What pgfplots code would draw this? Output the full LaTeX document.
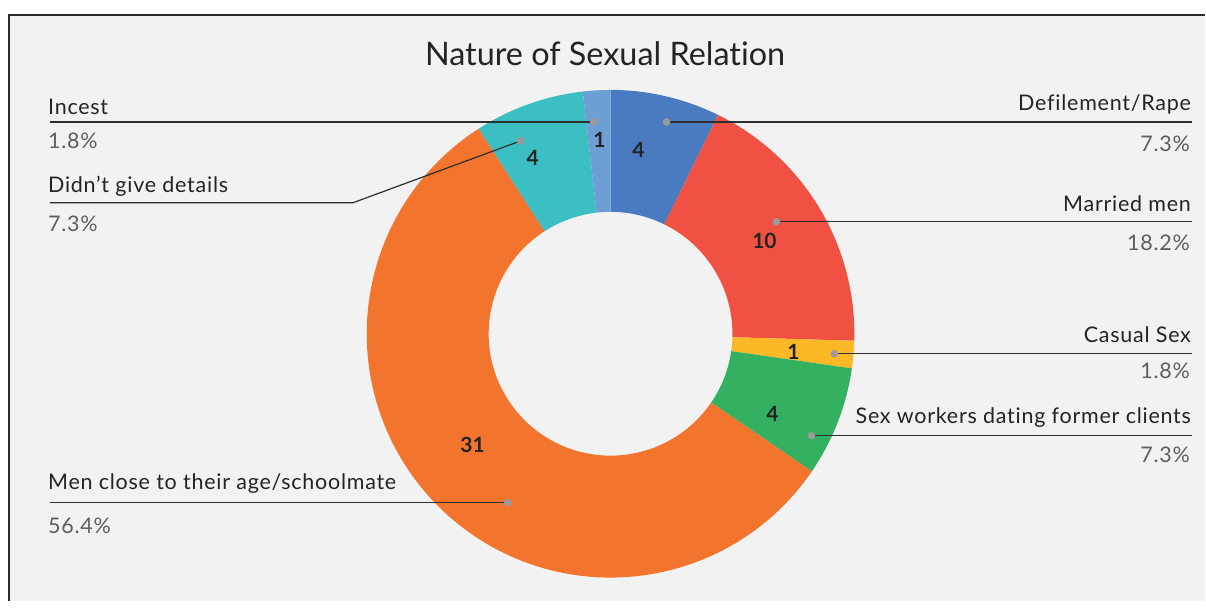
\documentclass[border=0pt]{standalone}
\usepackage{pgfplots}
\pgfplotsset{compat=1.18}
\usepackage{pgfplotstable}
\usepackage{fontspec}
\setmainfont{Lato}[Ligatures={NoCommon}]
\newfontfamily\labfont[LetterSpace=3.5,Ligatures={NoCommon}]{Lato}
\definecolor{cDef}{HTML}{4A7BC0}
\definecolor{cMar}{HTML}{F05142}
\definecolor{cCas}{HTML}{FDB827}
\definecolor{cSex}{HTML}{33B060}
\definecolor{cMen}{HTML}{F3742D}
\definecolor{cNod}{HTML}{3BBFC2}
\definecolor{cInc}{HTML}{6E9FD4}
\definecolor{bgC}{HTML}{F2F2F2}
\definecolor{frameC}{HTML}{2B2B2B}
\definecolor{txtC}{HTML}{252423}
\definecolor{pctC}{HTML}{605E5C}
\definecolor{lineC}{HTML}{2E2E2E}
\definecolor{dotC}{HTML}{9A9A9A}
\pgfplotstableread{
name value col
Defilement 4 cDef
Married 10 cMar
Casual 1 cCas
SexWorkers 4 cSex
MenClose 31 cMen
NoDetails 4 cNod
Incest 1 cInc
}\pietable
\newcommand\lab{\labfont\fontsize{21.5}{25}\selectfont}
\newcommand\num{\fontsize{21}{25}\selectfont\bfseries}
\begin{document}
\begin{tikzpicture}
\fill[white] (0,0) rectangle (1206pt,601pt);
\fill[bgC] (10pt,0) rectangle (1206pt,586pt);
\draw[frameC, line width=1.8pt] (9pt,0) -- (9pt,586pt) -- (1206pt,586pt);
\begin{axis}[x=1pt, y=1pt, xmin=0, xmax=1206, ymin=0, ymax=601,
  hide axis, clip=false, at={(0,0)}, anchor=south west]
\pgfplotsextra{
  \pgfplotstablegetrowsof{\pietable}
  \pgfmathtruncatemacro\lastrow{\pgfplotsretval-1}
  \gdef\pietot{0}
  \foreach \i in {0,...,\lastrow}{
    \pgfplotstablegetelem{\i}{value}\of\pietable
    \pgfmathparse{\pietot+\pgfplotsretval}\xdef\pietot{\pgfmathresult}}
  \gdef\cumang{90}
  \foreach \i in {0,...,\lastrow}{
    \pgfplotstablegetelem{\i}{value}\of\pietable
    \pgfmathparse{\cumang-360*\pgfplotsretval/\pietot}
    \let\aa\cumang \let\bb\pgfmathresult
    \pgfplotstablegetelem{\i}{col}\of\pietable
    \let\cc\pgfplotsretval
    \fill[color=\cc, shift={(axis cs:611,267)}]
      (\aa:244pt) arc[start angle=\aa, end angle=\bb, radius=244pt]
      -- (\bb:122pt) arc[start angle=\bb, end angle=\aa, radius=122pt] -- cycle;
    \xdef\cumang{\bb}}
}
% title
\node[anchor=base, text=txtC, font=\fontsize{32.4}{38}\selectfont] at (axis cs:605.5,535) {Nature of Sexual Relation};
% leader lines
\addplot[lineC, line width=1.2pt] coordinates {(50,479) (594,479)};
\addplot[lineC, line width=1.2pt] coordinates {(50,398) (353,398) (521,460)};
\addplot[lineC, line width=1.2pt] coordinates {(50,98) (508,98)};
\addplot[lineC, line width=1.2pt] coordinates {(667,479) (1193,479)};
\addplot[lineC, line width=1.2pt] coordinates {(777,379) (1193,379)};
\addplot[lineC, line width=1.2pt] coordinates {(835,247) (1193,247)};
\addplot[lineC, line width=1.2pt] coordinates {(812,165) (1193,165)};
\addplot[only marks, mark=*, mark size=3.6pt, dotC, mark options={draw=dotC, fill=dotC}]
  coordinates {(594,479) (521,460) (508,98) (667,479) (777,379) (835,247) (812,165)};
% slice values
\node[anchor=base, text=txtC, font=\num] at (axis cs:639,443) {4};
\node[anchor=base, text=txtC, font=\num] at (axis cs:765,352) {10};
\node[anchor=base, text=txtC, font=\num] at (axis cs:794,241) {1};
\node[anchor=base, text=txtC, font=\num] at (axis cs:773,179) {4};
\node[anchor=base, text=txtC, font=\num] at (axis cs:473,148) {31};
\node[anchor=base, text=txtC, font=\num] at (axis cs:533,435) {4};
\node[anchor=base, text=txtC, font=\num] at (axis cs:600,453) {1};
% left labels
\node[anchor=base west, inner sep=0pt, text=txtC, font=\lab] at (axis cs:48,486) {Incest};
\node[anchor=base west, inner sep=0pt, text=pctC, font=\lab] at (axis cs:48,452) {1.8\%};
\node[anchor=base west, inner sep=0pt, text=txtC, font=\lab] at (axis cs:48,408) {Didn’t give details};
\node[anchor=base west, inner sep=0pt, text=pctC, font=\lab] at (axis cs:48,369) {7.3\%};
\node[anchor=base west, inner sep=0pt, text=txtC, font=\lab] at (axis cs:48,111) {Men close to their age/schoolmate};
\node[anchor=base west, inner sep=0pt, text=pctC, font=\lab] at (axis cs:48,67) {56.4\%};
% right labels
\node[anchor=base east, inner sep=0pt, text=txtC, font=\lab] at (axis cs:1192,490) {Defilement/Rape};
\node[anchor=base east, inner sep=0pt, text=pctC, font=\lab] at (axis cs:1191,449) {7.3\%};
\node[anchor=base east, inner sep=0pt, text=txtC, font=\lab] at (axis cs:1192,389) {Married men};
\node[anchor=base east, inner sep=0pt, text=pctC, font=\lab] at (axis cs:1191,350) {18.2\%};
\node[anchor=base east, inner sep=0pt, text=txtC, font=\lab] at (axis cs:1192,258) {Casual Sex};
\node[anchor=base east, inner sep=0pt, text=pctC, font=\lab] at (axis cs:1191,222) {1.8\%};
\node[anchor=base east, inner sep=0pt, text=txtC, font=\lab] at (axis cs:1192,177) {Sex workers dating former clients};
\node[anchor=base east, inner sep=0pt, text=pctC, font=\lab] at (axis cs:1191,138) {7.3\%};
\end{axis}
\end{tikzpicture}
\end{document}
